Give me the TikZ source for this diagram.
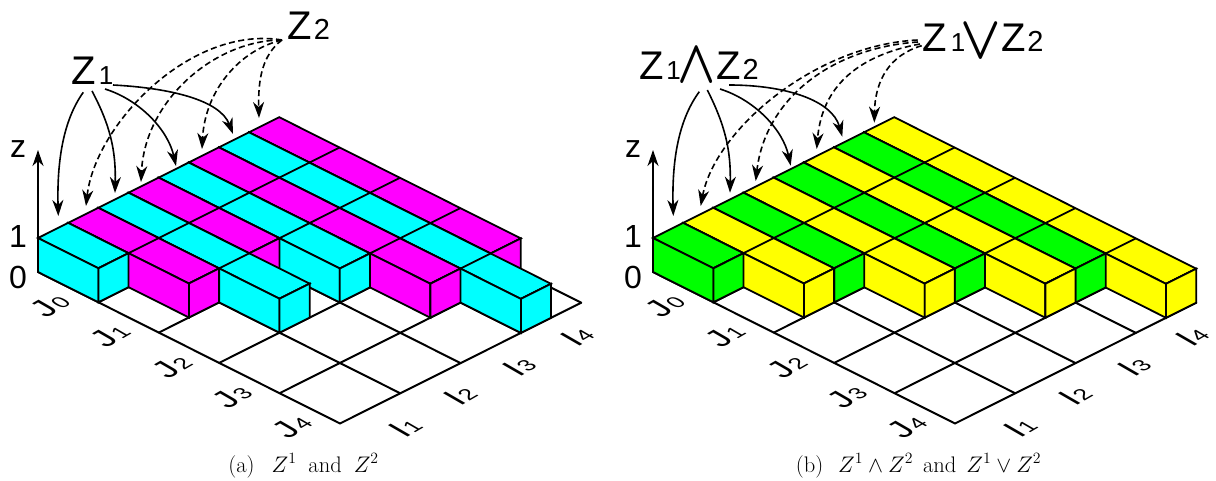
\RequirePackage{fix-cm}
\documentclass[tikz,border=0pt]{standalone}
\usepackage{fontspec}
\usetikzlibrary{arrows.meta}
\newfontfamily\hvf{Liberation Sans}
\definecolor{cya}{RGB}{0,255,255}
\definecolor{mag}{RGB}{255,0,255}
\definecolor{gre}{RGB}{0,255,0}
\definecolor{yel}{RGB}{255,255,0}
\tikzset{
  edgeline/.style={line width=1.8pt,line join=miter,draw=black},
  floorline/.style={line width=2pt,draw=black,line cap=round},
  solidarrow/.style={line width=1.6pt,-{Stealth[length=16pt,width=11pt,inset=5pt]}},
  dasharrow/.style={solidarrow,dash pattern=on 6pt off 3.5pt},
  axisarrow/.style={line width=1.5pt,-{Stealth[length=16pt,width=11pt,inset=5pt]}},
  lab/.style={inner sep=0pt,outer sep=0pt,anchor=base west},
  axlab/.style={inner sep=0pt,outer sep=0pt,anchor=center,font=\hvf\fontsize{32}{32}\selectfont},
  isolab/.style={inner sep=0pt,outer sep=0pt,anchor=center,transform shape,cm={.866,.5,-.866,.5,(0,0)}},
  captext/.style={inner sep=0pt,outer sep=0pt,anchor=base,font=\fontsize{22.5}{26}\selectfont},
  iso/.style={x={(30.15pt,15.1pt)},y={(60.4pt,-30.3pt)},z={(0pt,34pt)}}
}
\newcommand{\isobar}[3]{%
  \fill[#3,edgeline] (#1,0,1)--({#1+1},0,1)--({#1+1},#2,1)--(#1,#2,1)--cycle;
  \foreach \k in {1,...,#2} \draw[edgeline] (#1,\k,1)--({#1+1},\k,1);
  \fill[#3,edgeline] (#1,0,0)--(#1,0,1)--(#1,#2,1)--(#1,#2,0)--cycle;
  \fill[#3,edgeline] (#1,#2,0)--({#1+1},#2,0)--({#1+1},#2,1)--(#1,#2,1)--cycle;
}
\newcommand{\floorgrid}{%
  \foreach \i in {0,2,4,6,8} \draw[floorline] (\i,0,0)--(\i,5,0);
  \foreach \j in {0,1,2,3,4,5} \draw[floorline] (0,\j,0)--(8,\j,0);
}
\newcommand{\sublab}[2]{{\hvf\fontsize{33}{33}\selectfont #1\kern1pt\fontsize{22}{22}\selectfont #2}}
\newcommand{\bigop}[3]{\raisebox{#2}{\scalebox{#3}[6.1]{\fontsize{10}{10}\selectfont\boldmath$#1$}}}
\newcommand{\axislabels}[2]{%
  \node[axlab] (z#1) at ({18+#2},149) {z};
  \node[axlab] (one#1) at ({18+#2},236) {1};
  \node[axlab] (zero#1) at ({18+#2},277) {0};
  \node[isolab] (jz#1) at ({50+#2},305) {\sublab{J}{0}};
  \node[isolab] (jo#1) at ({110+#2},335) {\sublab{J}{1}};
  \node[isolab] (jt#1) at ({172+#2},366) {\sublab{J}{2}};
  \node[isolab] (jh#1) at ({232+#2},396) {\sublab{J}{3}};
  \node[isolab] (jf#1) at ({292+#2},426) {\sublab{J}{4}};
  \node[isolab] (io#1) at ({405+#2},427) {\sublab{I}{1}};
  \node[isolab] (it#1) at ({460+#2},395) {\sublab{I}{2}};
  \node[isolab] (ih#1) at ({519+#2},366) {\sublab{I}{3}};
  \node[isolab] (if#1) at ({577+#2},336) {\sublab{I}{4}};
  \coordinate (zb#1) at ({38+#2},238);
  \coordinate (zt#1) at ({38+#2},150);
  \draw[axisarrow] (zb#1) -- (zt#1);
}
\begin{document}
\begin{tikzpicture}[x=1pt,y=-1pt]
\useasboundingbox (0,0) rectangle (1216,481);
% ---- left panel
\begin{scope}[shift={(38,272)},iso]
  \floorgrid
  \isobar{7}{4}{mag}
  \isobar{6}{5}{cya}
  \isobar{5}{4}{mag}
  \isobar{4}{3}{cya}
  \isobar{3}{2}{mag}
  \isobar{2}{3}{cya}
  \isobar{1}{2}{mag}
  \isobar{0}{1}{cya}
\end{scope}
\axislabels{a}{0}
% ---- right panel
\begin{scope}[shift={(653,272)},iso]
  \floorgrid
  \isobar{7}{5}{yel}
  \isobar{6}{4}{gre}
  \isobar{5}{4}{yel}
  \isobar{4}{3}{gre}
  \isobar{3}{3}{yel}
  \isobar{2}{2}{gre}
  \isobar{1}{2}{yel}
  \isobar{0}{1}{gre}
\end{scope}
\axislabels{b}{615}
% ---- big labels
\node[lab] (zonea) at (71,85) {\hvf\fontsize{40}{40}\selectfont Z\kern3.5pt\fontsize{26}{26}\selectfont 1};
\node[lab] (ztwoa) at (287,40) {\hvf\fontsize{40}{40}\selectfont Z\kern2.5pt\fontsize{29}{29}\selectfont 2};
\node[lab] (andb) at (639,80) {\hvf\fontsize{40}{40}\selectfont Z\kern3pt\fontsize{26}{26}\selectfont 1\kern-3pt\bigop{\wedge}{-2pt}{5}\kern0pt\fontsize{40}{40}\selectfont Z\kern2pt\fontsize{29}{29}\selectfont 2};
\node[lab] (orb) at (922,52) {\hvf\fontsize{40}{40}\selectfont Z\kern4.5pt\fontsize{26}{26}\selectfont 1\kern-4.8pt\bigop{\vee}{-7pt}{5.3}\kern0pt\fontsize{40}{40}\selectfont Z\kern1.6pt\fontsize{29}{29}\selectfont 2};
% ---- captions
\node[captext] (capa) at (303.5,472) {(a)\hspace{17pt}$Z^1$\hspace{12pt}and\hspace{12pt}$Z^2$};
\node[captext] (capb) at (918.5,472) {(b)\hspace{15pt}$Z^1\wedge Z^2$\hspace{10pt}and\hspace{10pt}$Z^1\vee Z^2$};
% ---- arrows left
\coordinate (a1s) at (83.3,92.3); \coordinate (a1e) at (58.3,216);
\coordinate (a2s) at (92,91);     \coordinate (a2e) at (115,193);
\coordinate (a3s) at (105,89);    \coordinate (a3e) at (176,166);
\coordinate (a4s) at (113,85);    \coordinate (a4e) at (233,134);
\draw[solidarrow] (a1s) .. controls (62,122) and (57,165) .. (a1e);
\draw[solidarrow] (a2s) .. controls (110,125) and (116,150) .. (a2e);
\draw[solidarrow] (a3s) .. controls (140,100) and (168,130) .. (a3e);
\draw[solidarrow] (a4s) .. controls (170,88) and (220,100) .. (a4e);
\coordinate (d0) at (282,40);
\coordinate (d1e) at (86,206); \coordinate (d2e) at (141,182);
\coordinate (d3e) at (202,149); \coordinate (d4e) at (259,118);
\draw[dasharrow] (d0) .. controls (190,25) and (95,125) .. (d1e);
\draw[dasharrow] (d0) .. controls (215,40) and (145,100) .. (d2e);
\draw[dasharrow] (d0) .. controls (240,50) and (205,90) .. (d3e);
\draw[dasharrow] (d0) .. controls (262,55) and (258,80) .. (d4e);
% ---- arrows right
\coordinate (b1s) at (699.3,91.7); \coordinate (b1e) at (673.3,216);
\coordinate (b2s) at (707.3,90);   \coordinate (b2e) at (730,192.7);
\coordinate (b3s) at (720,89);     \coordinate (b3e) at (790.7,165.7);
\coordinate (b4s) at (729,85);     \coordinate (b4e) at (842.3,136.7);
\draw[solidarrow] (b1s) .. controls (677,122) and (672,165) .. (b1e);
\draw[solidarrow] (b2s) .. controls (725,125) and (731,150) .. (b2e);
\draw[solidarrow] (b3s) .. controls (755,100) and (783,130) .. (b3e);
\draw[solidarrow] (b4s) .. controls (785,85) and (832,100) .. (b4e);
\coordinate (e1s) at (917.7,40);   \coordinate (e1e) at (700.7,206);
\coordinate (e2s) at (918,42);     \coordinate (e2e) at (755.7,181);
\coordinate (e3s) at (920,44);     \coordinate (e3e) at (816.7,149);
\coordinate (e4s) at (921.7,45.7); \coordinate (e4e) at (874.3,122.7);
\draw[dasharrow] (e1s) .. controls (815,45) and (715,130) .. (e1e);
\draw[dasharrow] (e2s) .. controls (830,48) and (765,100) .. (e2e);
\draw[dasharrow] (e3s) .. controls (860,55) and (822,85) .. (e3e);
\draw[dasharrow] (e4s) .. controls (890,55) and (875,80) .. (e4e);
\end{tikzpicture}
\end{document}
